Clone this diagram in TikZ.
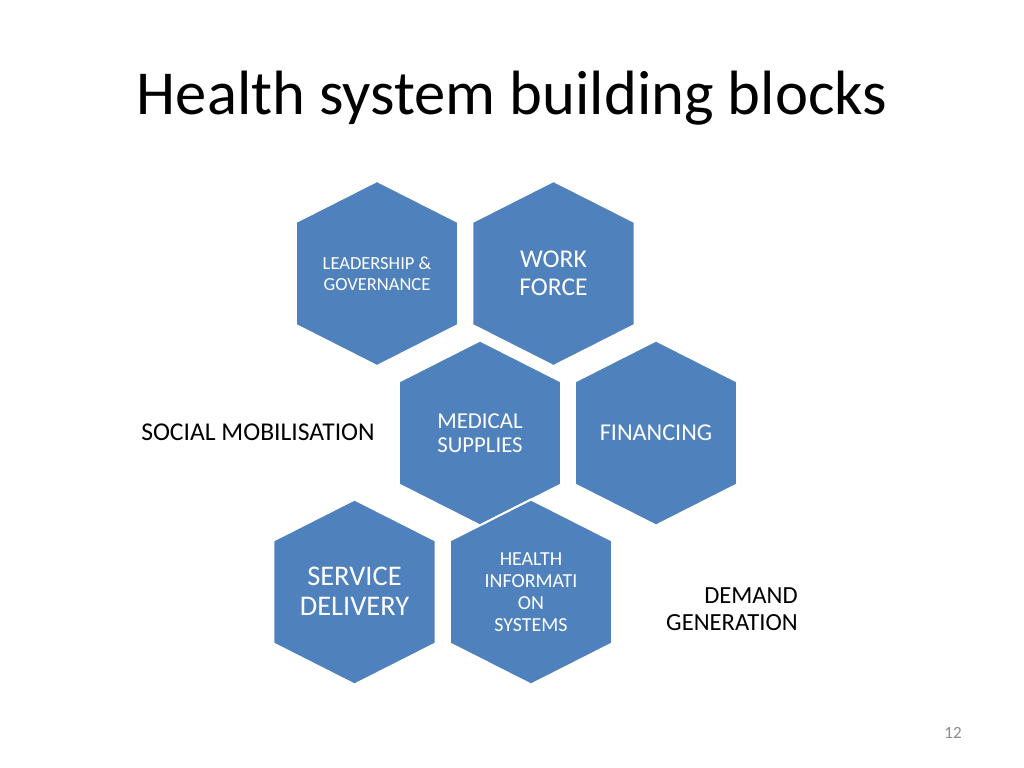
\documentclass[tikz,border=0pt]{standalone}
\usepackage{fontspec}
\setmainfont{Carlito}
\usepackage{xcolor}
\usepackage{tikz}
\definecolor{blockblue}{HTML}{4F81BD}
\definecolor{numgray}{HTML}{8C8C8C}
\begin{document}
\begin{tikzpicture}[x=0.703pt,y=-0.703pt,
      block/.style={fill=blockblue,draw=white,line width=1.4pt,line join=miter},
      hextext/.style={text=white,align=center,inner sep=0pt},
      plain/.style={text=black,inner sep=0pt}]
      \useasboundingbox (0,0) rectangle (1024,768);
      \node[plain,font=\fontsize{44}{48}\selectfont] (title) at (512,98) {Health system building blocks};
      % hexagon blocks, drawn in stacking order
      \foreach \cx/\cy in {377/273.5,553.5/273.5,480/433,656/433,354.5/592,531/592}
        \filldraw[block] (\cx,\cy-92.5) -- ++(81,41) -- ++(0,103) -- ++(-81,41) -- ++(-81,-41) -- ++(0,-103) -- cycle;
      \node[hextext,font=\fontsize{13}{14.5}\selectfont] (lead) at (377,273.5) {LEADERSHIP \&\\GOVERNANCE};
      \node[hextext,font=\fontsize{18}{19.7}\selectfont] (work) at (553.5,273) {WORK\\FORCE};
      \node[hextext,font=\fontsize{16}{17}\selectfont] (supp) at (480,433) {MEDICAL\\SUPPLIES};
      \node[hextext,font=\fontsize{17}{18}\selectfont] (fin) at (656,433) {FINANCING};
      \node[hextext,font=\fontsize{20}{21}\selectfont] (serv) at (354.5,591) {SERVICE\\DELIVERY};
      \node[hextext,font=\fontsize{14}{15.5}\selectfont] (info) at (531,592) {HEALTH\\INFORMATI\\ON\\SYSTEMS};
      \node[plain,font=\fontsize{18}{19}\selectfont,anchor=west] (social) at (141,432) {SOCIAL MOBILISATION};
      \node[plain,font=\fontsize{17.3}{19}\selectfont,align=right,anchor=east] (demand) at (798,609) {DEMAND\\GENERATION};
      \node[plain,text=numgray,font=\fontsize{12}{13}\selectfont] (pagenum) at (953,733) {12};
    \end{tikzpicture}
\end{document}
